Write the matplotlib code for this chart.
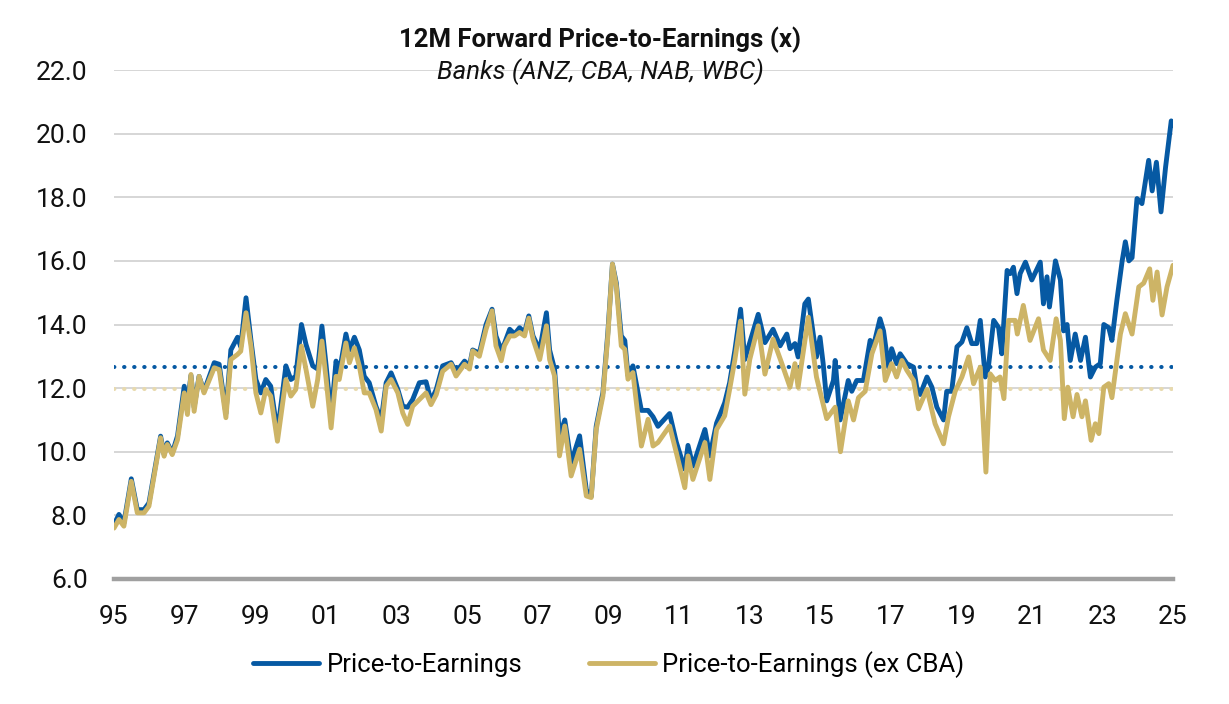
import matplotlib
matplotlib.use('Agg')
import matplotlib.pyplot as plt
import numpy as np

plt.rcParams['font.family'] = ['Roboto', 'DejaVu Sans']

# values (decimal year, P/E)
pe_years = [
    1995.00, 1995.14, 1995.28, 1995.49, 1995.66, 1995.85, 1995.99, 1996.32, 1996.42, 1996.51,
    1996.65, 1996.80, 1996.99, 1997.08, 1997.18, 1997.27, 1997.41, 1997.55, 1997.84, 1997.98,
    1998.17, 1998.31, 1998.50, 1998.59, 1998.74, 1998.88, 1999.02, 1999.16, 1999.30, 1999.44,
    1999.63, 1999.87, 2000.01, 2000.15, 2000.31, 2000.44, 2000.63, 2000.77, 2000.89, 2001.01,
    2001.15, 2001.29, 2001.38, 2001.57, 2001.67, 2001.81, 2001.95, 2002.09, 2002.23, 2002.42,
    2002.57, 2002.71, 2002.85, 2003.04, 2003.18, 2003.32, 2003.46, 2003.65, 2003.84, 2003.98,
    2004.13, 2004.31, 2004.55, 2004.69, 2004.93, 2005.07, 2005.16, 2005.35, 2005.54, 2005.71,
    2005.82, 2005.97, 2006.06, 2006.21, 2006.35, 2006.49, 2006.63, 2006.75, 2006.87, 2007.06,
    2007.25, 2007.34, 2007.48, 2007.62, 2007.77, 2007.95, 2008.19, 2008.38, 2008.52, 2008.66,
    2008.85, 2008.99, 2009.12, 2009.23, 2009.37, 2009.47, 2009.56, 2009.70, 2009.94, 2010.13,
    2010.27, 2010.41, 2010.74, 2010.93, 2011.17, 2011.26, 2011.40, 2011.74, 2011.88, 2012.07,
    2012.30, 2012.44, 2012.59, 2012.75, 2012.87, 2013.01, 2013.25, 2013.44, 2013.67, 2013.87,
    2014.06, 2014.15, 2014.29, 2014.38, 2014.57, 2014.67, 2014.81, 2014.90, 2015.00, 2015.09,
    2015.19, 2015.38, 2015.43, 2015.57, 2015.80, 2015.90, 2016.04, 2016.23, 2016.42, 2016.51,
    2016.70, 2016.80, 2016.94, 2017.03, 2017.17, 2017.27, 2017.46, 2017.65, 2017.74, 2017.84,
    2018.03, 2018.17, 2018.31, 2018.50, 2018.59, 2018.73, 2018.88, 2019.02, 2019.16, 2019.30,
    2019.44, 2019.54, 2019.68, 2019.77, 2019.92, 2020.06, 2020.15, 2020.30, 2020.39, 2020.48,
    2020.58, 2020.67, 2020.82, 2021.00, 2021.24, 2021.33, 2021.43, 2021.50, 2021.67, 2021.81,
    2021.90, 2022.00, 2022.09, 2022.23, 2022.38, 2022.52, 2022.66, 2022.80, 2022.94, 2023.04,
    2023.18, 2023.27, 2023.41, 2023.56, 2023.65, 2023.75, 2023.84, 2023.98, 2024.12, 2024.31,
    2024.41, 2024.53, 2024.66, 2024.79, 2024.95, 2025.00,
]
pe_vals = [
    7.71, 8.03, 7.76, 9.15, 8.18, 8.18, 8.39, 10.49, 9.91, 10.28,
    9.96, 10.50, 12.06, 11.50, 12.40, 11.40, 12.37, 11.90, 12.80, 12.75,
    11.20, 13.20, 13.60, 13.30, 14.84, 13.50, 12.27, 11.85, 12.27, 12.06,
    10.60, 12.70, 12.27, 12.37, 14.00, 13.37, 12.70, 12.60, 13.95, 12.70,
    11.10, 12.85, 12.48, 13.70, 13.20, 13.60, 13.20, 12.37, 12.17, 11.43,
    11.00, 12.17, 12.48, 11.96, 11.43, 11.40, 11.64, 12.17, 12.20, 11.60,
    11.96, 12.70, 12.80, 12.50, 12.85, 12.70, 13.20, 13.10, 14.00, 14.48,
    13.64, 13.20, 13.40, 13.85, 13.70, 13.90, 13.75, 14.27, 13.64, 13.20,
    14.37, 13.20, 12.60, 10.50, 11.00, 9.66, 10.50, 8.80, 8.60, 10.80,
    11.86, 13.75, 15.90, 15.30, 13.64, 13.50, 12.40, 12.70, 11.30, 11.30,
    11.10, 10.80, 11.20, 10.30, 9.45, 10.20, 9.55, 10.70, 9.87, 10.90,
    11.54, 12.17, 13.20, 14.48, 12.90, 13.43, 14.32, 13.43, 13.85, 13.33,
    13.70, 13.24, 13.40, 12.98, 14.65, 14.80, 13.70, 12.98, 13.60, 12.77,
    11.60, 12.24, 12.87, 11.00, 12.24, 11.90, 12.24, 12.24, 13.50, 13.30,
    14.18, 13.80, 12.66, 13.24, 12.77, 13.08, 12.77, 12.66, 12.03, 11.80,
    12.35, 12.03, 11.40, 11.00, 11.90, 11.90, 13.30, 13.45, 13.90, 13.40,
    13.40, 14.13, 12.35, 12.66, 14.13, 13.90, 13.08, 15.70, 15.60, 15.80,
    14.97, 15.60, 15.96, 15.40, 15.96, 14.65, 15.50, 14.55, 16.00, 15.40,
    13.80, 14.00, 12.87, 13.70, 12.87, 13.60, 12.35, 12.66, 12.77, 14.00,
    13.90, 13.50, 14.76, 16.00, 16.60, 16.00, 16.10, 17.96, 17.80, 19.16,
    18.20, 19.10, 17.54, 18.95, 20.40, 20.26,
]

ex_years = [
    1995.00, 1995.14, 1995.28, 1995.49, 1995.66, 1995.85, 1995.99, 1996.32, 1996.42, 1996.51,
    1996.65, 1996.80, 1996.99, 1997.08, 1997.18, 1997.27, 1997.41, 1997.55, 1997.84, 1997.98,
    1998.17, 1998.31, 1998.50, 1998.59, 1998.74, 1998.88, 1999.02, 1999.16, 1999.30, 1999.44,
    1999.63, 1999.87, 2000.01, 2000.15, 2000.31, 2000.44, 2000.63, 2000.77, 2000.89, 2001.01,
    2001.15, 2001.29, 2001.38, 2001.57, 2001.67, 2001.81, 2001.95, 2002.09, 2002.23, 2002.42,
    2002.57, 2002.71, 2002.85, 2003.04, 2003.18, 2003.32, 2003.46, 2003.65, 2003.84, 2003.98,
    2004.13, 2004.31, 2004.55, 2004.69, 2004.93, 2005.07, 2005.16, 2005.35, 2005.54, 2005.71,
    2005.82, 2005.97, 2006.06, 2006.21, 2006.35, 2006.49, 2006.63, 2006.75, 2006.87, 2007.06,
    2007.25, 2007.34, 2007.48, 2007.62, 2007.77, 2007.95, 2008.19, 2008.38, 2008.52, 2008.66,
    2008.85, 2008.99, 2009.12, 2009.23, 2009.37, 2009.47, 2009.56, 2009.70, 2009.94, 2010.13,
    2010.27, 2010.41, 2010.74, 2010.93, 2011.17, 2011.26, 2011.40, 2011.74, 2011.88, 2012.07,
    2012.30, 2012.44, 2012.59, 2012.75, 2012.87, 2013.01, 2013.25, 2013.44, 2013.67, 2013.91,
    2014.15, 2014.29, 2014.38, 2014.67, 2014.90, 2015.19, 2015.43, 2015.58, 2015.80, 2015.95,
    2016.09, 2016.28, 2016.47, 2016.70, 2016.85, 2017.03, 2017.17, 2017.32, 2017.46, 2017.65,
    2017.79, 2018.03, 2018.26, 2018.50, 2018.64, 2018.83, 2019.02, 2019.21, 2019.35, 2019.54,
    2019.70, 2019.82, 2019.96, 2020.10, 2020.21, 2020.34, 2020.53, 2020.59, 2020.76, 2020.95,
    2021.19, 2021.33, 2021.52, 2021.69, 2021.81, 2021.92, 2022.02, 2022.17, 2022.28, 2022.42,
    2022.52, 2022.68, 2022.80, 2022.90, 2023.04, 2023.18, 2023.27, 2023.51, 2023.65, 2023.84,
    2024.03, 2024.17, 2024.34, 2024.43, 2024.55, 2024.69, 2024.83, 2025.00,
]
ex_vals = [
    7.60, 7.87, 7.66, 9.07, 8.08, 8.08, 8.29, 10.44, 9.86, 10.23,
    9.91, 10.38, 11.85, 11.17, 12.43, 11.27, 12.37, 11.85, 12.64, 12.58,
    11.07, 12.90, 13.06, 13.16, 14.37, 13.32, 11.85, 11.22, 11.96, 11.75,
    10.33, 12.27, 11.75, 11.96, 13.32, 12.58, 11.43, 12.27, 13.48, 12.27,
    10.75, 12.37, 12.27, 13.42, 12.80, 13.27, 12.69, 11.85, 11.85, 11.33,
    10.65, 12.06, 12.27, 11.85, 11.22, 10.86, 11.43, 11.64, 11.85, 11.48,
    11.80, 12.53, 12.75, 12.38, 12.75, 12.60, 13.17, 13.00, 13.85, 14.43,
    13.33, 12.86, 13.33, 13.64, 13.64, 13.75, 13.64, 14.20, 13.54, 12.90,
    13.96, 12.90, 12.38, 9.87, 10.81, 9.24, 10.08, 8.61, 8.56, 10.70,
    11.75, 13.64, 15.90, 15.21, 13.33, 13.22, 12.28, 12.49, 10.18, 11.02,
    10.18, 10.29, 10.81, 9.97, 8.87, 9.87, 9.13, 10.29, 9.13, 10.70,
    11.13, 11.96, 12.90, 14.11, 11.81, 12.90, 13.96, 12.44, 13.54, 12.80,
    12.03, 12.77, 12.03, 14.23, 12.35, 11.04, 11.40, 10.00, 11.60, 11.00,
    11.70, 11.90, 13.08, 13.80, 12.24, 12.77, 12.35, 12.87, 12.56, 12.24,
    11.35, 11.96, 10.88, 10.25, 11.10, 11.90, 12.35, 12.98, 12.14, 12.66,
    9.36, 12.45, 12.24, 12.35, 11.67, 14.13, 14.13, 13.70, 14.60, 13.50,
    14.18, 13.20, 12.87, 14.18, 13.50, 11.04, 12.03, 11.10, 11.80, 11.10,
    11.60, 10.36, 10.88, 10.57, 12.03, 12.14, 11.70, 13.70, 14.34, 13.70,
    15.18, 15.30, 15.75, 14.76, 15.65, 14.30, 15.18, 15.86,
]

pe_avg = 12.66
ex_avg = 11.97

year_ticks = list(range(1995, 2026, 2))
year_labels = ['95', '97', '99', '01', '03', '05', '07', '09', '11', '13', '15', '17', '19', '21', '23', '25']
y_ticks = [6, 8, 10, 12, 14, 16, 18, 20, 22]

blue = '#0659A3'
gold = '#CDB466'
gold_light = '#E8DAAE'

fig = plt.figure(figsize=(12.29, 7.04), dpi=100)
ax = fig.add_axes([114 / 1229, 1 - 579 / 704, (1173 - 114) / 1229, (579 - 70) / 704])

for yv in y_ticks[1:]:
    ax.axhline(yv, color='#D6D6D6', lw=1.4, zorder=1)

ax.axhline(pe_avg, color=blue, lw=2.9, ls=(0, (0.1, 2.4)), dash_capstyle='round', zorder=2)
ax.axhline(ex_avg, color=gold_light, lw=2.9, ls=(0, (0.1, 2.4)), dash_capstyle='round', zorder=2)

ax.plot(pe_years, pe_vals, color=blue, lw=3.5, solid_joinstyle='round', solid_capstyle='round',
        zorder=3, label='Price-to-Earnings')
ax.plot(ex_years, ex_vals, color=gold, lw=3.5, solid_joinstyle='round', solid_capstyle='round',
        zorder=4, label='Price-to-Earnings (ex CBA)')

ax.set_xlim(1995, 2025)
ax.set_ylim(6, 22)
ax.set_xticks(year_ticks)
ax.set_xticklabels(year_labels)
ax.set_yticks(y_ticks)
ax.set_yticklabels([f'{v:.1f}' for v in y_ticks])
ax.tick_params(axis='both', length=0, labelsize=19, colors='#111111')
ax.tick_params(axis='x', pad=19)
ax.tick_params(axis='y', pad=19)

for s in ['top', 'right', 'left']:
    ax.spines[s].set_visible(False)
ax.spines['bottom'].set_color('#A0A0A0')
ax.spines['bottom'].set_linewidth(3.2)

fig.text(600 / 1229, 1 - 40 / 704, '12M Forward Price-to-Earnings (x)', ha='center', va='center',
         fontsize=18.5, fontweight='bold', color='#111111')
fig.text(600 / 1229, 1 - 72 / 704, 'Banks (ANZ, CBA, NAB, WBC)', ha='center', va='center',
         fontsize=18.5, fontstyle='italic', color='#111111')

fig.legend(loc='center', bbox_to_anchor=(609 / 1229, 1 - 665 / 704), ncol=2, frameon=False,
           fontsize=18.5, handlelength=2.55, handletextpad=0.3, columnspacing=2.6)

fig.savefig('out.png', dpi=100)
